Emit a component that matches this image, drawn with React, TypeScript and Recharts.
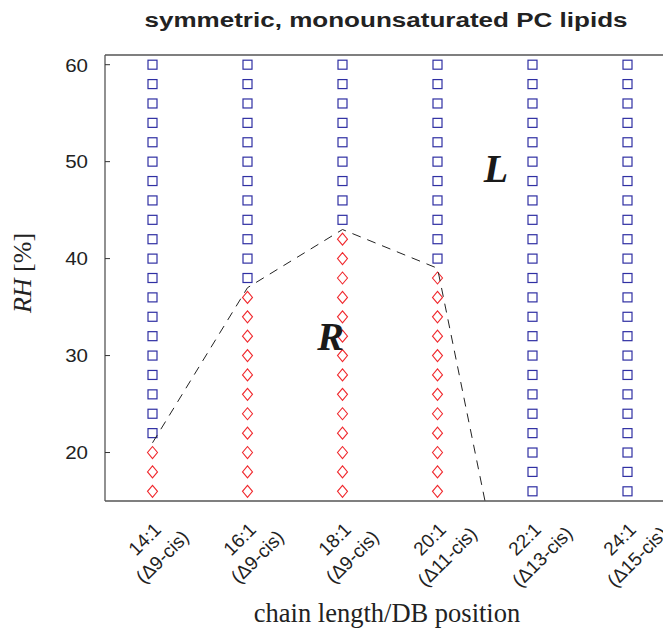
import React from "react"
import { ScatterChart, Scatter, XAxis, YAxis, ReferenceLine, ReferenceDot } from "recharts"

// lipids (chain length : double bonds) and double-bond position
const lipidNames = ["14:1", "16:1", "18:1", "20:1", "22:1", "24:1"]
const dbPositions = ["Δ9-cis", "Δ9-cis", "Δ9-cis", "Δ11-cis", "Δ13-cis", "Δ15-cis"]
const chainLengths = [14, 16, 18, 20, 22, 24]

// RH levels that were sampled for every lipid
const rhLevels = [16, 18, 20, 22, 24, 26, 28, 30, 32, 34, 36, 38, 40, 42, 44, 46, 48, 50, 52, 54, 56, 58, 60]
// lowest RH at which the L phase was seen
const lowestLamellarRH = [22, 38, 44, 40, 16, 16]

// dashed phase boundary
const boundaryX = [14, 16, 18, 20, 21]
const boundaryRH = [21, 37, 43, 39, 15]

const yTicks = [20, 30, 40, 50, 60]

const lamellar = chainLengths.flatMap((c, i) =>
  rhLevels.filter((rh) => rh >= lowestLamellarRH[i]).map((rh) => ({ x: c, y: rh }))
)
const ripple = chainLengths.flatMap((c, i) =>
  rhLevels.filter((rh) => rh < lowestLamellarRH[i]).map((rh) => ({ x: c, y: rh }))
)
const boundary = boundaryX.map((x, i) => ({ x, y: boundaryRH[i] }))

const PLOT_LEFT = 97
const PLOT_RIGHT = 667
const SANS = "'Liberation Sans', Arial, sans-serif"
const SERIF = "'Liberation Serif', 'Times New Roman', serif"

const Square = (props: any) => (
  <rect x={props.cx - 4.5} y={props.cy - 4.5} width={9} height={9} fill="none" stroke="#2f2fa3" strokeWidth={1.2} />
)

const Diamond = (props: any) => {
  const { cx, cy } = props
  return (
    <path
      d={`M${cx},${cy - 6} L${cx + 5},${cy} L${cx},${cy + 6} L${cx - 5},${cy} Z`}
      fill="none"
      stroke="#f0282d"
      strokeWidth={1.1}
    />
  )
}

const LeftTick = ({ y, payload }: any) => (
  <g>
    <line x1={PLOT_LEFT} x2={PLOT_LEFT + 5} y1={y} y2={y} stroke="#333" />
    <text
      transform={`translate(${PLOT_LEFT - 17},${y}) scale(1.08,1)`}
      dy="0.36em"
      textAnchor="end"
      fontSize={19}
      fontFamily={SANS}
      fill="#222"
    >
      {payload.value}
    </text>
  </g>
)

const RightTick = ({ y }: any) => <line x1={PLOT_RIGHT - 5} x2={PLOT_RIGHT} y1={y} y2={y} stroke="#333" />

const XTick = ({ x, payload }: any) => {
  const i = chainLengths.indexOf(payload.value)
  return (
    <g transform={`translate(${x + 1},540) rotate(-45)`} fontFamily={SANS} fontSize={19} fill="#222">
      <text textAnchor="middle" y={-6}>{lipidNames[i]}</text>
      <text textAnchor="middle" y={19}>({dbPositions[i]})</text>
    </g>
  )
}

const PhaseLetter = (letter: string) => (props: any) => (
  <text
    x={props.cx}
    y={props.cy + 13.5}
    textAnchor="middle"
    fontFamily={SERIF}
    fontSize={40}
    fontWeight="bold"
    fontStyle="italic"
    fill="#1a1a1a"
  >
    {letter}
  </text>
)

export default function App() {
  return (
    <div style={{ position: "relative", width: 663, height: 621, overflow: "hidden" }}>
      <ScatterChart width={680} height={621} margin={{ top: 47, right: 0, bottom: 28, left: 37 }}>
        <XAxis
          type="number"
          dataKey="x"
          domain={[13, 25]}
          ticks={chainLengths}
          height={100}
          axisLine={{ stroke: "#555", strokeWidth: 1.3 }}
          tickLine={false}
          tick={<XTick />}
          interval={0}
        />
        <YAxis
          type="number"
          dataKey="y"
          domain={[15, 61]}
          ticks={yTicks}
          width={60}
          axisLine={{ stroke: "#555", strokeWidth: 1.3 }}
          tickLine={false}
          tick={<LeftTick />}
        />
        <YAxis
          yAxisId="right"
          orientation="right"
          type="number"
          domain={[15, 61]}
          ticks={yTicks}
          width={13}
          axisLine={{ stroke: "#555", strokeWidth: 1.3 }}
          tickLine={false}
          tick={<RightTick />}
        />
        <ReferenceLine y={61} stroke="#555" strokeWidth={1.3} />
        <Scatter data={lamellar} shape={<Square />} isAnimationActive={false} />
        <Scatter data={ripple} shape={<Diamond />} isAnimationActive={false} />
        <Scatter
          data={boundary}
          line={{ stroke: "#222", strokeWidth: 1, strokeDasharray: "9 7" }}
          lineType="joint"
          shape={() => <g />}
          isAnimationActive={false}
        />
        <ReferenceDot x={21.23} y={49.26} r={0} shape={PhaseLetter("L")} />
        <ReferenceDot x={17.75} y={32.0} r={0} shape={PhaseLetter("R")} />
      </ScatterChart>
      <svg width={663} height={621} style={{ position: "absolute", left: 0, top: 0, pointerEvents: "none" }}>
        <text
          transform="translate(378,19) scale(1.24,1)"
          textAnchor="middle"
          fontFamily={SANS}
          fontWeight="bold"
          fontSize={21}
          fill="#222"
        >
          symmetric, monounsaturated PC lipids
        </text>
        <text x={379} y={614} textAnchor="middle" fontFamily={SERIF} fontSize={26.5} fill="#222">
          chain length/DB position
        </text>
        <text transform="translate(23,265) rotate(-90)" textAnchor="middle" fontFamily={SERIF} fontSize={26} fill="#222">
          <tspan fontStyle="italic">RH</tspan> [%]
        </text>
      </svg>
    </div>
  )
}
